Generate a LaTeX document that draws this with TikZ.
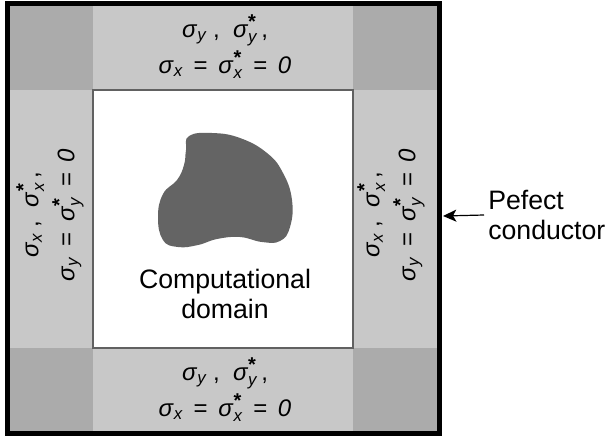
\documentclass[tikz,border=0pt]{standalone}
\usepackage{amsmath}
\usepackage{fontspec}
\setmainfont{Liberation Sans}
\usetikzlibrary{arrows.meta}
\definecolor{pmlgray}{HTML}{C8C8C8}
\definecolor{cornergray}{HTML}{ABABAB}
\definecolor{blobgray}{HTML}{646464}
\newcommand{\sg}[1]{\textit{σ}$_{\text{\itshape #1}}$}
\newcommand{\sgs}[1]{\textit{σ}$^{\text{\fontsize{15}{15}\selectfont\bfseries *}}_{\text{\itshape #1}}$}
\newcommand{\eqs}{\ \,=\ \,}
\begin{document}
\begin{tikzpicture}[x=0.75pt,y=-0.75pt,
  lbl/.style={align=center,font=\fontsize{18}{27}\selectfont,inner sep=0pt},
  big/.style={align=center,font=\fontsize{20}{22}\selectfont,inner sep=0pt}]
\useasboundingbox (0,0) rectangle (613,436);
% layers
\fill[pmlgray] (7,3) rectangle (439,433);
\fill[cornergray] (7,3) rectangle (93,90);
\fill[cornergray] (353,3) rectangle (439,90);
\fill[cornergray] (7,348) rectangle (93,433);
\fill[cornergray] (353,348) rectangle (439,433);
\draw[line width=1.1pt,fill=white,draw=black!62] (93,90) rectangle (353,348);
\draw[line width=3.75pt] (7,3) rectangle (439,433);
% scatterer
\fill[blobgray] plot[smooth cycle,tension=0.75] coordinates {
  (189,136) (212,133) (240,138) (267,153) (283,173) (292,200) (290,227)
  (280,241) (262,242) (240,237) (217,239) (198,245) (178,247) (163,240)
  (158,217) (163,194) (177,180) (184,165) (186,150)};
\node[big] (dom) at (225,294) {Computational\\domain};
% pml labels
\node[lbl] (top) at (225,47) {\sg{y} ,\ \ \sgs{y}\,,\\\sg{x}\eqs\sgs{x}\eqs\textit{0}};
\node[lbl] (bot) at (225,390) {\sg{y} ,\ \ \sgs{y}\,,\\\sg{x}\eqs\sgs{x}\eqs\textit{0}};
\node[lbl,rotate=90] (left) at (50,215) {\sg{x} ,\ \ \sgs{x}\,,\\\sg{y}\eqs\sgs{y}\eqs\textit{0}};
\node[lbl,rotate=90] (right) at (391,215) {\sg{x} ,\ \ \sgs{x}\,,\\\sg{y}\eqs\sgs{y}\eqs\textit{0}};
% conductor
\coordinate (wall) at (443,216);
\node[big,align=left,anchor=west,inner sep=3pt] (pec) at (484,215) {Pefect\\conductor};
\draw[-{Stealth[length=10pt,width=9pt,inset=2.5pt]},line width=0.9pt] (pec.west) -- (wall);
\end{tikzpicture}
\end{document}
